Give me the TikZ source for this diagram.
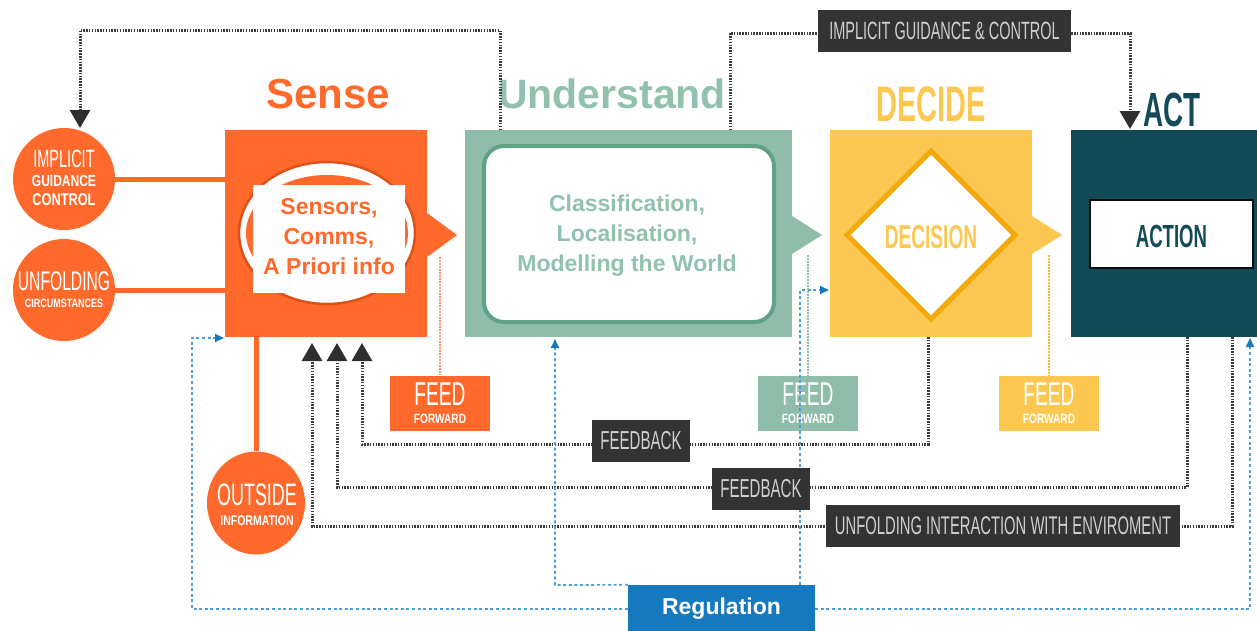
\documentclass[tikz,border=0pt]{standalone}
\usepackage{fontspec}
\setmainfont{Liberation Sans}
\newfontfamily\cond[FakeStretch=0.58]{Liberation Sans}
\newfontfamily\condw[FakeStretch=0.75]{Liberation Sans}
\usetikzlibrary{arrows.meta,shapes.geometric}
\definecolor{senseor}{HTML}{FF6A2C}
\definecolor{senseordk}{HTML}{DE5118}
\definecolor{undgr}{HTML}{8FBDA9}
\definecolor{undgrdk}{HTML}{5FA285}
\definecolor{undtxt}{HTML}{92C2AE}
\definecolor{decyel}{HTML}{FDC852}
\definecolor{decyeldk}{HTML}{F2AA0A}
\definecolor{actteal}{HTML}{134A57}
\definecolor{lbldark}{HTML}{333333}
\definecolor{lbltxt}{HTML}{CFCFCF}
\definecolor{regblue}{HTML}{1679BE}
\definecolor{regdot}{HTML}{4C9FDA}
\definecolor{dotgray}{HTML}{3C3C3C}
\newcommand\fsz[1]{\fontsize{#1}{#1}\selectfont}
\tikzset{
  panel/.style={inner sep=0, minimum width=#1},
  bigcirc/.style={circle, fill=senseor, inner sep=0, minimum size=102},
  txt/.style={inner sep=0, anchor=center},
  orline/.style={senseor, line width=5},
  graydot/.style={dotgray, line width=3, dash pattern=on 1.5pt off 1.3pt},
  bluedot/.style={regdot, line width=1.7, dash pattern=on 3pt off 2.6pt},
  ffdot/.style={line width=1.4, dash pattern=on 1.6pt off 1.4pt},
  darklbl/.style={fill=lbldark, text=lbltxt, inner sep=0, minimum height=42},
  ffbox/.style={inner sep=0, minimum width=100, minimum height=55, text=white},
  blacktip/.style={-{Triangle[length=18pt,width=20pt,color=black!82]}},
  bluetip/.style={-{Triangle[length=9pt,width=8pt,color=regblue]}},
}
\begin{document}
\begin{tikzpicture}[x=1pt,y=-1pt]
\useasboundingbox (0,0) rectangle (1257,630);
\fill[white] (0,0) rectangle (1257,630);

% ---------- titles
\node[txt, text=senseor, font=\bfseries\fsz{42}] (tsense) at (328,94) {Sense};
\node[txt, text=undtxt, font=\bfseries\fsz{41}] (tund) at (612,94) {Understand};
\node[txt, text=decyel, font=\cond\bfseries\fsz{50}] (tdec) at (931,104) {DECIDE};
\node[txt, text=actteal, font=\cond\bfseries\fsz{48}] (tact) at (1172,110) {ACT};

% ---------- panels
\node[panel=202, minimum height=207, fill=senseor] (sense) at (326,233.5) {};
\fill[senseor] (427,213) -- (457,235) -- (427,257) -- cycle;
\filldraw[fill=white, draw=senseordk, line width=2.5] (327,233) ellipse [x radius=88pt, y radius=71pt];
\fill[senseor] (327,233) ellipse [x radius=81pt, y radius=58pt];
\node[panel=152, minimum height=108, fill=white] (sensors) at (329,239) {};
\node[txt, text=senseor, font=\bfseries\fontsize{23}{30}\selectfont, align=center] at (329,237)
  {Sensors,\\Comms,\\A Priori info};

\node[panel=327, minimum height=207, fill=undgr] (und) at (628.5,233.5) {};
\fill[undgr] (792,216) -- (822,235) -- (792,254) -- cycle;
\node[rectangle, rounded corners=20, panel=290, minimum height=176, fill=white, draw=undgrdk, line width=4] (undin) at (629,234) {};
\node[txt, text=undtxt, font=\bfseries\fontsize{23}{30}\selectfont, align=center] at (627,236)
  {Classification,\\Localisation,\\Modelling the World};

\node[panel=202, minimum height=207, fill=decyel] (dec) at (931,233.5) {};
\fill[decyel] (1032,216) -- (1062,235) -- (1032,254) -- cycle;
\node[diamond, aspect=1, panel=170, minimum height=170, fill=white, draw=decyeldk, line width=5] (decision) at (931,235) {};
\node[txt, text=decyel, font=\cond\bfseries\fsz{33}] at (931,237) {DECISION};

\node[panel=190, minimum height=207, fill=actteal] (act) at (1166,233.5) {};
\node[panel=163, minimum height=68, fill=white, draw=black!85!actteal, line width=2.5] (action) at (1171.5,234) {};
\node[txt, text=actteal, font=\cond\bfseries\fsz{32}] at (1171.5,236) {ACTION};

% ---------- left circles
\node[bigcirc] (c1) at (64,179) {};
\node[bigcirc] (c2) at (64,290) {};
\node[ellipse, fill=senseor, inner sep=0, minimum width=98, minimum height=103] (c3) at (256,503) {};
\draw[orline] (c1.east) -- (c1.east -| sense.west);
\draw[orline] (c2.east) -- (c2.east -| sense.west);
\draw[orline] (sense.south -| c3.north) -- (c3.north);
\node[txt, text=white, font=\cond\fsz{25}] at (64,159) {IMPLICIT};
\node[txt, text=white, font=\condw\bfseries\fsz{16}] at (64,181) {GUIDANCE};
\node[txt, text=white, font=\condw\bfseries\fsz{17}] at (64,200) {CONTROL};
\node[txt, text=white, font=\cond\fsz{27}] at (64,281) {UNFOLDING};
\node[txt, text=white, font=\condw\bfseries\fsz{12}] at (64,303) {CIRCUMSTANCES};
\node[txt, text=white, font=\cond\fsz{31}] at (257,495) {OUTSIDE};
\node[txt, text=white, font=\condw\bfseries\fsz{14}] at (257,521) {INFORMATION};

% ---------- implicit guidance lines
\coordinate (ua) at (500,130);
\coordinate (ub) at (730,130);
\coordinate (c1top) at (80,128);
\coordinate (acttop) at (1130,129);
\draw[graydot, blacktip] (ua) -- (500,30) -- (80,30) -- (c1top);
\node[darklbl, minimum width=253, font=\cond\fsz{25}] (igc) at (944.5,30.5) {IMPLICIT GUIDANCE \& CONTROL};
\draw[graydot] (ub) -- (730,33) -- (igc.west |- 0,33);
\draw[graydot, blacktip] (igc.east |- 0,33) -- (1130,33) -- (acttop);

% ---------- feed forward
\node[ffbox, fill=senseor] (ff1) at (440,403) {};
\node[ffbox, fill=undgr] (ff2) at (808,403) {};
\node[ffbox, fill=decyel] (ff3) at (1049,403) {};
\foreach \n in {ff1,ff2,ff3}{
  \node[txt, text=white, font=\cond\fsz{33}] at ([yshift=9]\n.center) {FEED};
  \node[txt, text=white, font=\condw\bfseries\fsz{13.5}] at ([yshift=-16]\n.center) {FORWARD};
}
\draw[ffdot, color=senseor!70] (440,257) -- (ff1.north);
\draw[ffdot, color=undgr] (808,255) -- (ff2.north);
\draw[ffdot, color=decyeldk!80] (1049,255) -- (ff3.north);

% ---------- feedback loops
\coordinate (fa) at (928,337);
\coordinate (fb) at (1187,337);
\coordinate (fc) at (1232,337);
\coordinate (s1) at (362,343);
\coordinate (s2) at (337,343);
\coordinate (s3) at (312,343);
\draw[graydot, blacktip] (fa) -- (928,444) -- (362,444) -- (s1);
\draw[graydot, blacktip] (fb) -- (1187,487) -- (337,487) -- (s2);
\draw[graydot, blacktip] (fc) -- (1232,526) -- (312,526) -- (s3);

% ---------- regulation
\node[fill=regblue, text=white, font=\bfseries\fsz{23}, inner sep=0, minimum width=187, minimum height=48] (reg) at (721.5,609) {Regulation};
\coordinate (senseb) at (224,338);
\coordinate (undb) at (555,339);
\coordinate (decl) at (829,290);
\coordinate (actb) at (1250,338);
\draw[bluedot, bluetip] (reg.west) -- (192,609) -- (192,338) -- (senseb);
\draw[bluedot, bluetip] (reg.east) -- (1250,609) -- (actb);
\draw[bluedot, bluetip] (reg.north west) -- (555,585) -- (undb);
\draw[bluedot, bluetip] (reg.north -| 800,0) -- (800,290) -- (decl);

% ---------- labels on top
\node[darklbl, minimum width=98, font=\cond\fsz{26}] (fbl1) at (641,441) {FEEDBACK};
\node[darklbl, minimum width=98, font=\cond\fsz{26}] (fbl2) at (761,489) {FEEDBACK};
\node[darklbl, minimum width=354, font=\cond\fsz{25.5}] (uie) at (1003,526) {UNFOLDING INTERACTION WITH ENVIROMENT};
\end{tikzpicture}
\end{document}
